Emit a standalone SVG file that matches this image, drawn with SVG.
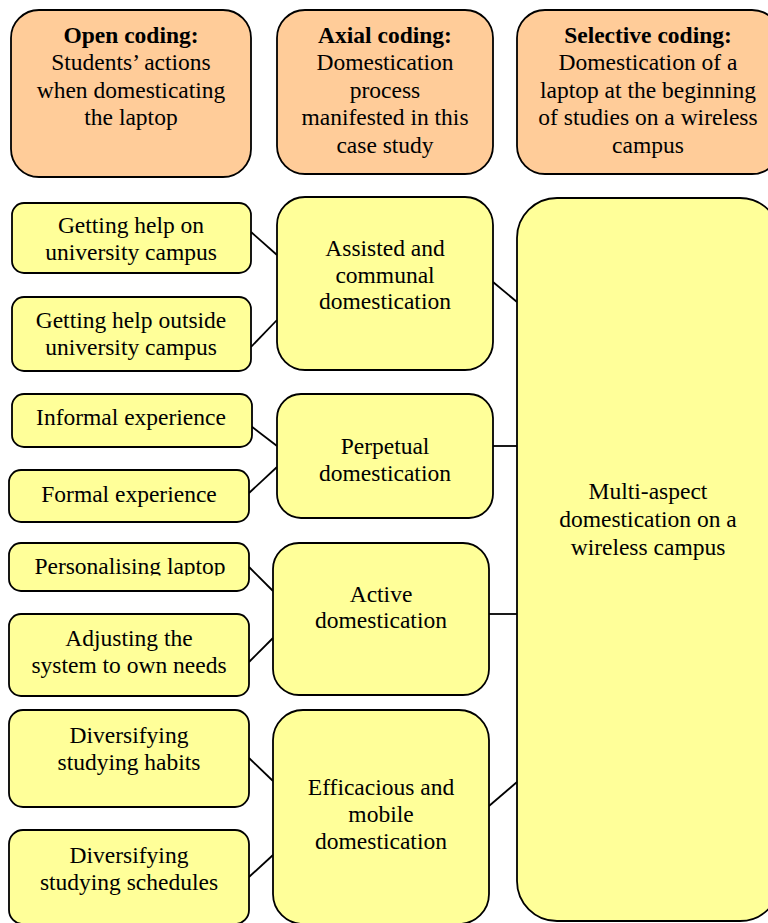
<svg xmlns="http://www.w3.org/2000/svg" width="768" height="923" viewBox="0 0 768 923">
<style>
.hdr{fill:#FFCC99;stroke:#000;stroke-width:1.8}
.nd{fill:#FFFF99;stroke:#000;stroke-width:1.8}
text{font-family:"Liberation Serif","Times New Roman",serif;font-size:23.5px;fill:#000;text-anchor:middle}
.b{font-weight:bold}
.c{stroke:#000;stroke-width:1.8;fill:none}
</style>
<defs>
<clipPath id="clipN5"><rect x="0" y="540" width="260" height="35.5"/></clipPath>
</defs>
<rect width="768" height="923" fill="#fff"/>
<g id="h1"><rect class="hdr" x="11" y="10" width="240" height="167" rx="28"/>
<text x="131" y="43" class="b">Open coding:</text>
<text x="131" y="70">Students’ actions</text>
<text x="131" y="98">when domesticating</text>
<text x="131" y="125">the laptop</text></g>
<g id="h2"><rect class="hdr" x="277" y="10" width="216" height="164" rx="28"/>
<text x="385" y="43" class="b">Axial coding:</text>
<text x="385" y="70">Domestication</text>
<text x="385" y="98">process</text>
<text x="385" y="125">manifested in this</text>
<text x="385" y="153">case study</text></g>
<g id="h3"><rect class="hdr" x="517" y="10" width="263" height="164" rx="28"/>
<text x="648" y="43" class="b">Selective coding:</text>
<text x="648" y="70">Domestication of a</text>
<text x="648" y="98">laptop at the beginning</text>
<text x="648" y="125">of studies on a wireless</text>
<text x="648" y="153">campus</text></g>
<g id="connectors">
<line class="c" x1="251" y1="232" x2="277" y2="255"/>
<line class="c" x1="251" y1="347" x2="277" y2="320"/>
<line class="c" x1="493" y1="282" x2="517" y2="302"/>
<line class="c" x1="251" y1="426" x2="277" y2="446"/>
<line class="c" x1="249" y1="493" x2="277" y2="467"/>
<line class="c" x1="493" y1="446" x2="517" y2="446"/>
<line class="c" x1="249" y1="567" x2="273" y2="591"/>
<line class="c" x1="249" y1="662" x2="273" y2="638"/>
<line class="c" x1="489" y1="614" x2="517" y2="614"/>
<line class="c" x1="249" y1="758" x2="273" y2="781"/>
<line class="c" x1="249" y1="877" x2="273" y2="855"/>
<line class="c" x1="489" y1="806" x2="517" y2="782"/>
</g>
<g id="n1"><rect class="nd" x="12" y="203" width="239" height="70" rx="12"/>
<text x="131" y="233">Getting help on</text>
<text x="131" y="260">university campus</text></g>
<g id="n2"><rect class="nd" x="12" y="297" width="239" height="74" rx="12"/>
<text x="131" y="328">Getting help outside</text>
<text x="131" y="355">university campus</text></g>
<g id="n3"><rect class="nd" x="12" y="394" width="240" height="53" rx="12"/>
<text x="131" y="425">Informal experience</text></g>
<g id="n4"><rect class="nd" x="9" y="470" width="240" height="52" rx="12"/>
<text x="129" y="502">Formal experience</text></g>
<g id="n5"><rect class="nd" x="9" y="543" width="240" height="48" rx="12"/>
<text x="130" y="574" clip-path="url(#clipN5)">Personalising laptop</text></g>
<g id="n6"><rect class="nd" x="9" y="614" width="240" height="82" rx="12"/>
<text x="129" y="646">Adjusting the</text>
<text x="129" y="673">system to own needs</text></g>
<g id="n7"><rect class="nd" x="9" y="710" width="240" height="97" rx="14"/>
<text x="129" y="743">Diversifying</text>
<text x="129" y="770">studying habits</text></g>
<g id="n8"><rect class="nd" x="9" y="830" width="240" height="94" rx="14"/>
<text x="129" y="863">Diversifying</text>
<text x="129" y="890">studying schedules</text></g>
<g id="m1"><rect class="nd" x="277" y="197" width="216" height="173" rx="28"/>
<text x="385" y="256">Assisted and</text>
<text x="385" y="283">communal</text>
<text x="385" y="309">domestication</text></g>
<g id="m2"><rect class="nd" x="277" y="394" width="216" height="124" rx="24"/>
<text x="385" y="454">Perpetual</text>
<text x="385" y="481">domestication</text></g>
<g id="m3"><rect class="nd" x="273" y="543" width="216" height="152" rx="26"/>
<text x="381" y="602">Active</text>
<text x="381" y="628">domestication</text></g>
<g id="m4"><rect class="nd" x="273" y="710" width="216" height="214" rx="30"/>
<text x="381" y="795">Efficacious and</text>
<text x="381" y="822">mobile</text>
<text x="381" y="849">domestication</text></g>
<g id="r1"><rect class="nd" x="517" y="198" width="263" height="723" rx="40"/>
<text x="648" y="499">Multi-aspect</text>
<text x="648" y="527">domestication on a</text>
<text x="648" y="555">wireless campus</text></g>
</svg>
